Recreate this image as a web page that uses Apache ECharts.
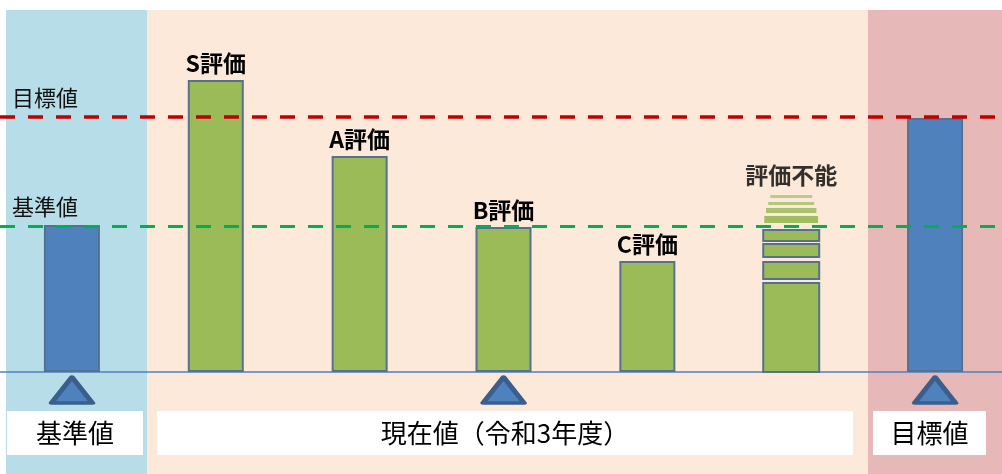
<!DOCTYPE html>
<html><head><meta charset="utf-8">
<script src="https://cdn.jsdelivr.net/npm/echarts@6/dist/echarts.min.js"></script>
<style>html,body{margin:0;padding:0;background:#fff}#c{width:1002px;height:474px}</style>
</head><body><div id="c"></div><script>
// ---- data ----
const categories = ['基準値', 'S評価', 'A評価', 'B評価', 'C評価', '評価不能', '目標値'];
const barValues = [147, 292, 216, 145, 111, null, 254];
const barKinds = ['base', 'eval', 'eval', 'eval', 'eval', 'eval', 'target'];
const unevaluableBlocks = [[0, 89], [93, 110], [115, 128], [131, 142]];
const unevaluableFades = [[149, 156, 0.96], [159, 164, 0.9], [167, 170, 0.82], [174, 177, 0.75]];
const targetValue = 255;
const baseValue = 146;
const refLabels = ['目標値', '基準値'];
const markerCats = [0, 3, 6];
const markerValue = -18;
const sectionLabels = ['基準値', '現在値（令和3年度）', '目標値'];

// ---- chart ----
const FONT = '"Noto Sans CJK JP", "Noto Sans", sans-serif';
const BAR_W = 56;
const chart = echarts.init(document.getElementById('c'), null, { renderer: 'canvas' });

const unevalIdx = categories.indexOf('評価不能');
const customData = unevaluableBlocks.map(b => [unevalIdx, b[0], b[1], 1, 1])
  .concat(unevaluableFades.map(f => [unevalIdx, f[0], f[1], f[2], 0]));
const fadeTop = unevaluableFades[unevaluableFades.length - 1][1];

const boxLayout = [[7, 143], [157, 853], [873, 986]];
const bgLayout = [[6, 147, '#b7dde8'], [147, 868, '#fde9d9'], [868, 1002, '#e6b8b7']];

const graphic = [];
bgLayout.forEach(b => graphic.push({
  type: 'rect', z: -20, silent: true,
  shape: { x: b[0], y: 10, width: b[1] - b[0], height: 464 },
  style: { fill: b[2] }
}));
sectionLabels.forEach((t, i) => graphic.push({
  type: 'rect', z: 50, silent: true,
  shape: { x: boxLayout[i][0], y: 411, width: boxLayout[i][1] - boxLayout[i][0], height: 44 },
  style: { fill: '#ffffff' },
  textContent: { style: { text: t, fontSize: 26, fontFamily: FONT, fill: '#000' }, z: 51 },
  textConfig: { position: 'inside' }
}));

chart.setOption({
  animation: false,
  backgroundColor: '#ffffff',
  grid: { left: 0, width: 1007, top: 12, bottom: 2, containLabel: false, outerBoundsMode: 'none' },
  xAxis: {
    type: 'category', data: categories,
    axisLine: { show: true, onZero: true, lineStyle: { color: '#4f81bd', width: 1.5 } },
    axisTick: { show: false }, axisLabel: { show: false }, splitLine: { show: false }
  },
  yAxis: { type: 'value', min: -100, max: 360, show: false, splitLine: { show: false } },
  graphic: graphic,
  series: [
    {
      type: 'bar', data: barValues, barWidth: BAR_W, z: 3,
      itemStyle: {
        color: p => barKinds[p.dataIndex] === 'eval' ? '#9bbb59' : '#4f81bd',
        borderColor: '#57708f', borderWidth: 2
      },
      label: {
        show: true, position: 'top', distance: 5,
        formatter: p => barKinds[p.dataIndex] === 'eval' ? p.name : '',
        fontSize: 23, fontWeight: 'bold', fontFamily: FONT, color: '#000'
      },
      markLine: {
        silent: true, symbol: 'none', z: 4,
        label: { show: true, position: 'insideStartTop', fontSize: 22, fontFamily: FONT, color: '#111', distance: [12, 8] },
        data: [
          { yAxis: targetValue, lineStyle: { color: '#c00000', width: 3.5, type: [15, 13] }, label: { formatter: refLabels[0] } },
          { yAxis: baseValue, lineStyle: { color: '#00b050', width: 3, type: [15, 13] }, label: { formatter: refLabels[1] } }
        ]
      }
    },
    {
      type: 'custom', data: customData, z: 3,
      renderItem: (params, api) => {
        const x = api.value(0), s = api.value(1), e = api.value(2), f = api.value(3), solid = api.value(4);
        const p0 = api.coord([x, s]), p1 = api.coord([x, e]);
        const w = BAR_W * f;
        const fi = params.dataIndex - unevaluableBlocks.length;
        return {
          type: 'rect',
          shape: { x: p0[0] - w / 2, y: p1[1], width: w, height: p0[1] - p1[1] },
          style: solid ? { fill: '#9bbb59', stroke: '#57708f', lineWidth: 2 }
                       : { fill: '#9bbb59', opacity: 0.95 - 0.1 * fi }
        };
      }
    },
    {
      type: 'scatter', data: [[unevalIdx, fadeTop]], symbolSize: 1, z: 3,
      itemStyle: { color: 'rgba(0,0,0,0)' },
      label: { show: true, position: 'top', distance: 8, formatter: categories[unevalIdx],
        fontSize: 23, fontWeight: 'bold', fontFamily: FONT, color: '#000' }
    },
    {
      type: 'scatter', data: markerCats.map(c => [c, markerValue]), z: 5,
      symbol: 'triangle', symbolSize: [41, 26],
      itemStyle: { color: '#4f81bd', opacity: 1, borderColor: '#3a5f8e', borderWidth: 4.5, borderJoin: 'round' }
    }
  ]
});
</script></body></html>
